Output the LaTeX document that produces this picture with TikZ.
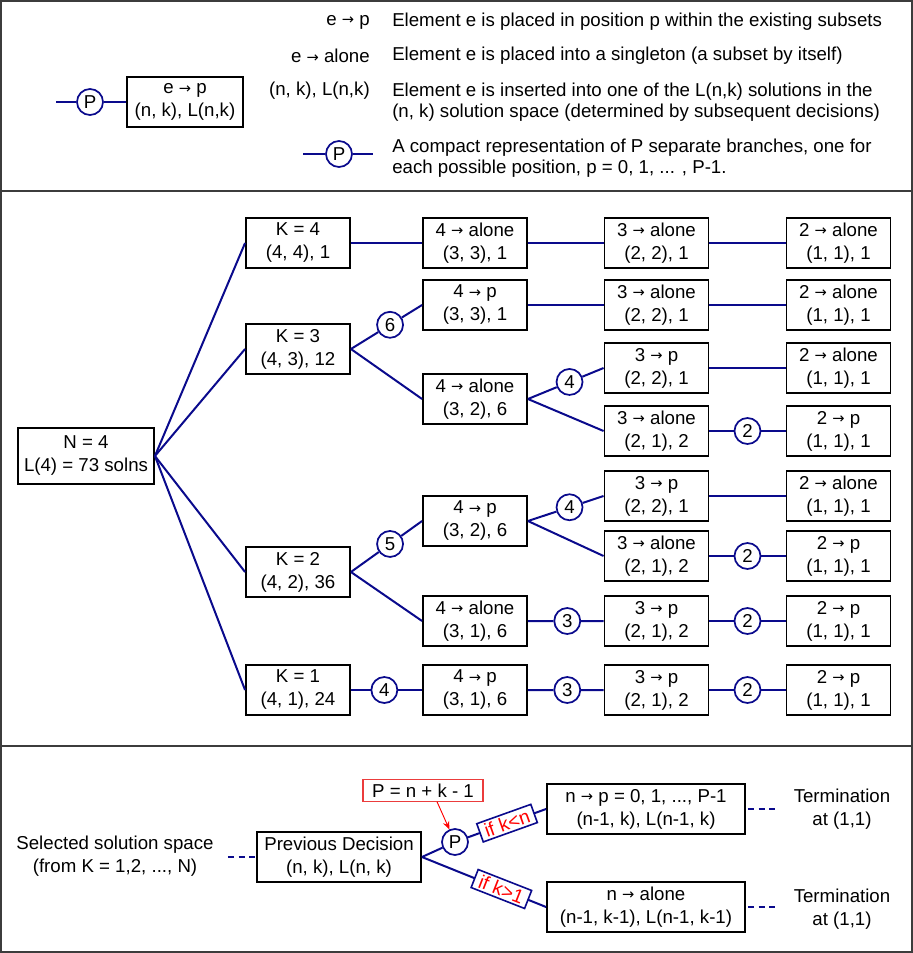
\documentclass[tikz,border=0pt]{standalone}
\usepackage{fontspec}
\setmainfont{Liberation Sans}
\newfontfamily\arrfont{DejaVu Sans}
\usetikzlibrary{calc,arrows.meta}
\definecolor{navy}{RGB}{10,10,140}
\definecolor{lred}{RGB}{235,60,60}
\definecolor{framegray}{RGB}{60,60,60}
\newcommand{\myarr}{\raisebox{0.02em}{\arrfont\fontsize{11}{10}\selectfont →}}
\begin{document}
\begin{tikzpicture}[x=0.75pt,y=-0.75pt,
  txt/.style={font=\fontsize{14}{17.25}\selectfont, inner sep=0pt, align=center},
  desc/.style={font=\fontsize{14}{16}\selectfont, inner sep=0pt, align=left, anchor=west},
  box/.style={txt, draw=black, line width=1.4pt, minimum width=78pt, minimum height=37.5pt, fill=white},
  num/.style={circle, draw=navy, line width=1.3pt, fill=white, minimum size=19.5pt, inner sep=0pt, font=\fontsize{14}{16}\selectfont},
  conn/.style={draw=navy, line width=1.5pt},
  dconn/.style={conn, dash pattern=on 4.5pt off 3.5pt},
  cond/.style={draw=navy, line width=1.2pt, fill=white, text=red, inner xsep=4pt, inner ysep=2pt, font=\fontsize{14.5}{15}\selectfont},
]
\useasboundingbox (0,0) rectangle (913,953);
% frame
\draw[framegray, line width=1.5pt] (1,1) rectangle (912,952);
\draw[framegray, line width=1.5pt] (1,191) -- (912,191);
\draw[framegray, line width=1.5pt] (1,746) -- (912,746);

% ---------- legend ----------
\node[box, minimum width=87pt] (lbox) at (185,102) {e \myarr\ p\\(n, k), L(n,k)};
\node[num] (lp) at (90,102) {P};
\coordinate (lpl) at (56,102);
\draw[conn] (lpl) -- (lp) -- (lbox.west);

\node[txt, anchor=east] (l1) at (370,22) {e \myarr\ p};
\node[txt, anchor=east] (l2) at (370,56) {e \myarr\ alone};
\node[txt, anchor=east] (l3) at (370,91) {(n, k), L(n,k)};
\node[desc] (d1) at (392,22) {Element e is placed in position p within the existing subsets};
\node[desc] (d2) at (392,56) {Element e is placed into a singleton (a subset by itself)};
\node[desc] (d3) at (392,102) {Element e is inserted into one of the L(n,k) solutions in the\\(n, k) solution space (determined by subsequent decisions)};
\node[desc] (d4) at (392,158) {A compact representation of P separate branches, one for\\each possible position, p = 0, 1, ... , P-1.};
\node[num] (lp2) at (339,154) {P};
\coordinate (lp2l) at (303,154);
\coordinate (lp2r) at (373,154);
\draw[conn] (lp2l) -- (lp2) -- (lp2r);

% ---------- tree ----------
\node[box, minimum width=102pt, minimum height=42pt] (N) at (86,456) {N = 4\\L(4) = 73 solns};
\node[box] (K4) at (298,243) {K = 4\\(4, 4), 1};
\node[box] (K3) at (298,349) {K = 3\\(4, 3), 12};
\node[box] (K2) at (298,572) {K = 2\\(4, 2), 36};
\node[box] (K1) at (298,690) {K = 1\\(4, 1), 24};

\node[box] (a1) at (475,243) {4 \myarr\ alone\\(3, 3), 1};
\node[box] (a2) at (475,305) {4 \myarr\ p\\(3, 3), 1};
\node[box] (a3) at (475,399) {4 \myarr\ alone\\(3, 2), 6};
\node[box] (a4) at (475,521) {4 \myarr\ p\\(3, 2), 6};
\node[box] (a5) at (475,621) {4 \myarr\ alone\\(3, 1), 6};
\node[box] (a6) at (475,690) {4 \myarr\ p\\(3, 1), 6};

\node[box] (b1) at (656.5,243) {3 \myarr\ alone\\(2, 2), 1};
\node[box] (b2) at (656.5,305) {3 \myarr\ alone\\(2, 2), 1};
\node[box] (b3) at (656.5,368) {3 \myarr\ p\\(2, 2), 1};
\node[box] (b4) at (656.5,431) {3 \myarr\ alone\\(2, 1), 2};
\node[box] (b5) at (656.5,496) {3 \myarr\ p\\(2, 2), 1};
\node[box] (b6) at (656.5,556) {3 \myarr\ alone\\(2, 1), 2};
\node[box] (b7) at (656.5,621) {3 \myarr\ p\\(2, 1), 2};
\node[box] (b8) at (656.5,690) {3 \myarr\ p\\(2, 1), 2};

\node[box] (c1) at (838.5,243) {2 \myarr\ alone\\(1, 1), 1};
\node[box] (c2) at (838.5,305) {2 \myarr\ alone\\(1, 1), 1};
\node[box] (c3) at (838.5,368) {2 \myarr\ alone\\(1, 1), 1};
\node[box] (c4) at (838.5,431) {2 \myarr\ p\\(1, 1), 1};
\node[box] (c5) at (838.5,496) {2 \myarr\ alone\\(1, 1), 1};
\node[box] (c6) at (838.5,556) {2 \myarr\ p\\(1, 1), 1};
\node[box] (c7) at (838.5,621) {2 \myarr\ p\\(1, 1), 1};
\node[box] (c8) at (838.5,690) {2 \myarr\ p\\(1, 1), 1};

\foreach \k in {K4,K3,K2,K1} \draw[conn] (N.east) -- (\k.west);
\draw[conn] (K4.east) -- (a1.west);
\draw[conn] (a1.east) -- (b1.west);
\draw[conn] (b1.east) -- (c1.west);
\draw[conn] (a2.east) -- (b2.west);
\draw[conn] (b2.east) -- (c2.west);
\draw[conn] (b3.east) -- (c3.west);
\draw[conn] (b5.east) -- (c5.west);
\draw[conn] (K3.east) -- (a3.west);
\draw[conn] (a3.east) -- (b4.west);
\draw[conn] (K2.east) -- (a5.west);
\draw[conn] (a4.east) -- (b6.west);

\node[num] (n6) at ($(K3.east)!0.55!(a2.west)$) {6};
\draw[conn] (K3.east) -- (n6) -- (a2.west);
\node[num] (n4a) at ($(a3.east)!0.55!(b3.west)$) {4};
\draw[conn] (a3.east) -- (n4a) -- (b3.west);
\node[num] (n2a) at ($(b4.east)!0.5!(c4.west)$) {2};
\draw[conn] (b4.east) -- (n2a) -- (c4.west);
\node[num] (n5) at ($(K2.east)!0.55!(a4.west)$) {5};
\draw[conn] (K2.east) -- (n5) -- (a4.west);
\node[num] (n4b) at ($(a4.east)!0.55!(b5.west)$) {4};
\draw[conn] (a4.east) -- (n4b) -- (b5.west);
\node[num] (n2b) at ($(b6.east)!0.5!(c6.west)$) {2};
\draw[conn] (b6.east) -- (n2b) -- (c6.west);
\node[num] (n3a) at ($(a5.east)!0.52!(b7.west)$) {3};
\draw[conn] (a5.east) -- (n3a) -- (b7.west);
\node[num] (n2c) at ($(b7.east)!0.5!(c7.west)$) {2};
\draw[conn] (b7.east) -- (n2c) -- (c7.west);
\node[num] (n4c) at ($(K1.east)!0.47!(a6.west)$) {4};
\draw[conn] (K1.east) -- (n4c) -- (a6.west);
\node[num] (n3b) at ($(a6.east)!0.52!(b8.west)$) {3};
\draw[conn] (a6.east) -- (n3b) -- (b8.west);
\node[num] (n2d) at ($(b8.east)!0.5!(c8.west)$) {2};
\draw[conn] (b8.east) -- (n2d) -- (c8.west);

% ---------- bottom ----------
\node[txt] (sel) at (115,856) {Selected solution space\\(from K = 1,2, ..., N)};
\node[box, minimum width=123pt] (prev) at (339,857) {Previous Decision\\(n, k), L(n, k)};
\draw[dconn, shorten <=10.5pt] (sel.east |- prev.west) -- (prev.west);
\node[num] (Pc) at (455,842) {P};
\node[txt, draw=lred, line width=0.8pt, minimum width=90pt, minimum height=16pt] (pf) at (423,790.5) {P = n + k - 1};
\draw[red, line width=0.7pt, -{Stealth[length=6pt,width=5pt]}] ($(pf.south)+(14,0)$) -- (Pc);
\node[box, minimum width=148.5pt] (U) at (646,809) {n \myarr\ p = 0, 1, ..., P-1\\(n-1, k), L(n-1, k)};
\node[box, minimum width=148.5pt, minimum height=37pt] (D) at (646,907) {n \myarr\ alone\\(n-1, k-1), L(n-1, k-1)};
\draw[conn] (prev.east) -- (Pc) -- node[cond, pos=0.5, rotate=19.7] {if k<n} (U.west);
\draw[conn] (prev.east) -- node[cond, pos=0.64, rotate=-21.4] {if k>1} (D.west);
\node[txt] (T1) at (842,809) {Termination\\at (1,1)};
\node[txt] (T2) at (842,909) {Termination\\at (1,1)};
\draw[dconn, shorten <=1.5pt, shorten >=10.5pt] (U.east) -- (U.east -| T1.west);
\draw[dconn, shorten <=1.5pt, shorten >=10.5pt] (D.east) -- (D.east -| T2.west);
\end{tikzpicture}
\end{document}
